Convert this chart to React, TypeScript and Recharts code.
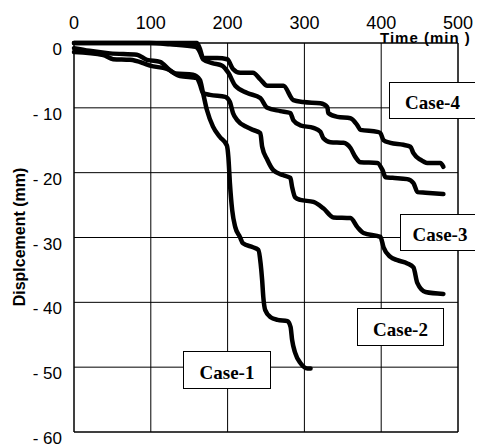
import React from 'react'
import { LineChart, Line, XAxis, YAxis, CartesianGrid, ReferenceLine } from 'recharts'

// time (min), displacement (mm)
const case1 = [
  [0, -0.8], [20, -1.2], [47, -1.6], [82, -1.8], [95, -2.6], [112, -2.9], [125, -4.2], [132, -4.7],
  [155, -4.9], [164, -5.7], [168, -7.7], [173, -10.3], [181, -12.9], [190, -14.5], [199, -15.8],
  [201, -17.6], [203, -21.6], [206, -25.8], [210, -28.4], [216, -29.9], [220, -30.9], [233, -31.5],
  [240, -31.9], [243, -34], [245, -36.6], [246.5, -39.2], [249, -41.2], [256, -42.3], [265, -42.7],
  [278, -42.9], [282, -43.8], [284, -45.8], [288, -47.8], [295, -49.4], [304, -50.2], [308, -50.2],
]
const case2 = [
  [0, -1.4], [38, -1.85], [51, -2.5], [73, -2.6], [90, -3.1], [99, -3.5], [121, -4], [138, -5.1],
  [160, -5.4], [164, -6.4], [168, -7.7], [177, -8], [197, -8.3], [203, -9.1], [207, -10.8],
  [212.5, -11.9], [225.6, -13], [233, -13.4], [242.6, -13.9], [245, -16], [251.7, -18], [259.5, -19.6],
  [272.6, -20.4], [281.7, -20.8], [284, -22.2], [288, -23.8], [294.7, -24.2], [311.7, -24.5],
  [324.7, -25.5], [337.8, -26.9], [360, -27], [369, -28.4], [377, -29.3], [399, -29.9], [403, -31.5],
  [412, -33], [421, -33.5], [434, -34], [442, -34.6], [447, -37], [457.7, -38.4], [481, -38.7],
]
const case3 = [
  [0, 0], [99, 0], [125, -0.2], [158, -0.6], [164, -1.4], [168, -2.5], [180, -3.1], [193, -3.5],
  [201, -4.6], [210, -6.6], [225.6, -7.7], [242.6, -8.5], [251.7, -10], [268.6, -10.5], [281.7, -10.8],
  [285.6, -11.9], [294.7, -12.7], [311.7, -13.1], [320.8, -13.7], [324.7, -14.7], [333.9, -15.3],
  [350.8, -15.4], [360, -16.2], [366.5, -17.6], [373, -18.4], [395, -18.5], [401.7, -19.6],
  [405.6, -20.7], [414.7, -20.8], [434, -21], [442, -21.6], [447.3, -23], [457.7, -23.1], [481, -23.3],
]
const case4 = [
  [0, 0], [160, 0], [164, -0.9], [168, -2.3], [186.5, -2.3], [199.5, -2.5], [207, -4], [216.5, -4.6],
  [233, -4.6], [242.6, -5.6], [251.7, -6.6], [272.6, -6.6], [285.6, -8.8], [298.6, -9.1], [320.8, -9.3],
  [330, -9.9], [331, -10.8], [343, -11.4], [360, -11.6], [369, -12.7], [373, -13.4], [395, -13.7],
  [399, -13.9], [403, -15], [412, -15.4], [429, -15.7], [438, -16], [442, -17], [451, -18], [460, -18.5],
  [477, -18.5], [481, -19.1],
]

const timeTicks = [0, 100, 200, 300, 400, 500]
const dispTicks = [0, -10, -20, -30, -40, -50, -60]

const toRows = (pts: number[][]) => pts.map(([t, d]) => ({ t, d }))
const series = [
  { name: 'Case-1', data: toRows(case1) },
  { name: 'Case-2', data: toRows(case2) },
  { name: 'Case-3', data: toRows(case3) },
  { name: 'Case-4', data: toRows(case4) },
]

// label boxes, relative to the chart wrapper
const boxes = [
  { text: 'Case-4', left: 381, top: 74, width: 87, height: 37 },
  { text: 'Case-3', left: 392, top: 206, width: 80, height: 37 },
  { text: 'Case-2', left: 349, top: 300, width: 87, height: 38 },
  { text: 'Case-1', left: 175, top: 343, width: 88, height: 38 },
]

const SANS = '"Liberation Sans", Arial, sans-serif'

function TimeTick({ x, y, payload }: any) {
  return (
    <text x={x} y={y + 1} textAnchor="middle" fontSize={18} fontFamily={SANS} fill="#000">
      {payload.value}
    </text>
  )
}

function DispTick({ x, y, payload }: any) {
  const v = payload.value
  const label = v === 0 ? '0' : `- ${Math.abs(v)}`
  return (
    <text x={x} y={y + 12} textAnchor="end" fontSize={17} fontFamily={SANS} fill="#000">
      {label}
    </text>
  )
}

export default function App() {
  return (
    <div style={{ position: 'relative', width: 475, height: 437 }}>
      <LineChart width={470} height={437} margin={{ top: 10, right: 20, bottom: 13, left: 10 }}>
        <CartesianGrid stroke="#000" strokeWidth={1} />
        <XAxis
          type="number"
          dataKey="t"
          orientation="top"
          domain={[0, 500]}
          ticks={timeTicks}
          height={25}
          tickLine={false}
          tickSize={0}
          tickMargin={15}
          axisLine={{ stroke: '#000' }}
          tick={<TimeTick />}
          allowDuplicatedCategory={false}
        />
        <YAxis
          type="number"
          domain={[-60, 0]}
          ticks={dispTicks}
          width={56}
          tickLine={false}
          tickSize={0}
          tickMargin={12}
          axisLine={{ stroke: '#000' }}
          tick={<DispTick />}
        />
        <ReferenceLine x={500} stroke="#000" />
        <ReferenceLine y={-60} stroke="#000" />
        {series.map((s) => (
          <Line
            key={s.name}
            data={s.data}
            dataKey="d"
            name={s.name}
            type="monotone"
            stroke="#000"
            strokeWidth={4.5}
            strokeLinecap="round"
            strokeLinejoin="round"
            dot={false}
            isAnimationActive={false}
          />
        ))}
      </LineChart>
      <div
        style={{
          position: 'absolute', left: 372, top: 21, fontFamily: SANS, fontWeight: 'bold',
          fontSize: 15, letterSpacing: 1, lineHeight: 'normal', whiteSpace: 'nowrap',
        }}
      >
        Time (min )
      </div>
      <div
        style={{
          position: 'absolute', left: 12, top: 229, fontFamily: SANS, fontWeight: 'bold', fontSize: 16,
          whiteSpace: 'nowrap', transform: 'translate(-50%, -50%) rotate(-90deg)',
        }}
      >
        Displcement (mm)
      </div>
      {boxes.map((b) => (
        <div
          key={b.text}
          style={{
            position: 'absolute', left: b.left, top: b.top, width: b.width, height: b.height,
            boxSizing: 'border-box', border: '1.5px solid #000', background: '#fff',
            display: 'flex', alignItems: 'center', justifyContent: 'center', paddingTop: 5,
            fontFamily: '"Liberation Serif", "Times New Roman", serif', fontWeight: 'bold', fontSize: 19,
          }}
        >
          {b.text}
        </div>
      ))}
    </div>
  )
}
